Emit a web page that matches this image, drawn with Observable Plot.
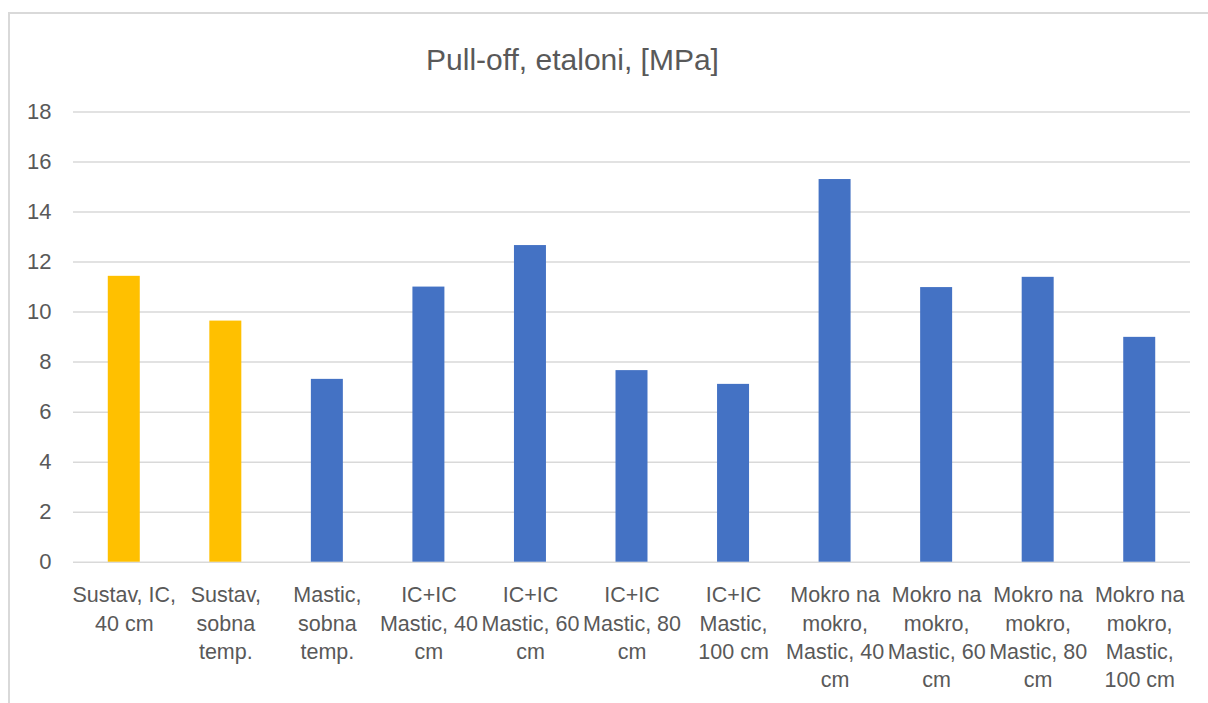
<!DOCTYPE html>
<html>
<head>
<meta charset="utf-8">
<script src="https://cdn.jsdelivr.net/npm/d3@7"></script>
<script src="https://cdn.jsdelivr.net/npm/@observablehq/plot@0.6"></script>
<style>
  html, body { margin: 0; padding: 0; background: #fff; overflow: hidden; }
  body { width: 1208px; height: 703px; position: relative; font-family: "Liberation Sans", Arial, sans-serif; }
  #frame { position: absolute; left: 8px; top: 12px; width: 1240px; height: 760px; border: 2px solid #d9d9d9; box-sizing: border-box; }
  #title { position: absolute; left: 572.5px; top: 45px; transform: translateX(-50%); white-space: nowrap;
           font-size: 30px; line-height: 30px; color: #595959; }
  #chart { position: absolute; left: 0; top: 0; }
</style>
</head>
<body>
<div id="frame"></div>
<div id="title">Pull-off, etaloni, [MPa]</div>
<div id="chart"></div>
<script>
const categories = ["s1", "s2", "m1", "ic40", "ic60", "ic80", "ic100", "mm40", "mm60", "mm80", "mm100"];
const tickLabels = [
  "Sustav, IC,\n40 cm",
  "Sustav,\nsobna\ntemp.",
  "Mastic,\nsobna\ntemp.",
  "IC+IC\nMastic, 40\ncm",
  "IC+IC\nMastic, 60\ncm",
  "IC+IC\nMastic, 80\ncm",
  "IC+IC\nMastic,\n100 cm",
  "Mokro na\nmokro,\nMastic, 40\ncm",
  "Mokro na\nmokro,\nMastic, 60\ncm",
  "Mokro na\nmokro,\nMastic, 80\ncm",
  "Mokro na\nmokro,\nMastic,\n100 cm"
];
const values = [11.43, 9.64, 7.31, 11.0, 12.66, 7.66, 7.11, 15.3, 10.98, 11.39, 8.99];
const groups = ["Sustav", "Sustav", "Mastic", "Mastic", "Mastic", "Mastic", "Mastic", "Mastic", "Mastic", "Mastic", "Mastic"];
const groupColors = ["#FFC000", "#4472C4"];
const yTicks = [0, 2, 4, 6, 8, 10, 12, 14, 16, 18];

const data = categories.map((c, i) => ({cat: c, value: values[i], group: groups[i]}));
const labelOf = new Map(categories.map((c, i) => [c, tickLabels[i]]));

const chart = Plot.plot({
  width: 1208,
  height: 703,
  marginTop: 111.5,
  marginBottom: 141.3,
  marginLeft: 73,
  marginRight: 18,
  style: {fontFamily: "'Liberation Sans', Arial, sans-serif", color: "#595959", background: "transparent", overflow: "visible"},
  x: {domain: categories, paddingInner: 0.685, paddingOuter: 0.3425, round: false, label: null},
  y: {domain: [0, 18], label: null},
  color: {domain: ["Sustav", "Mastic"], range: groupColors},
  marks: [
    Plot.gridY(yTicks, {stroke: "#d9d9d9", strokeOpacity: 1, strokeWidth: 1.5}),
    Plot.barY(data, {x: "cat", y: "value", fill: "group"}),
    Plot.axisY(yTicks, {tickSize: 0, tickPadding: 22, fontSize: 22, label: null}),
    Plot.axisX({tickSize: 0, tickPadding: 20, fontSize: 21.5, lineHeight: 1.32, tickFormat: d => labelOf.get(d), label: null})
  ]
});
document.getElementById("chart").appendChild(chart);
</script>
</body>
</html>
